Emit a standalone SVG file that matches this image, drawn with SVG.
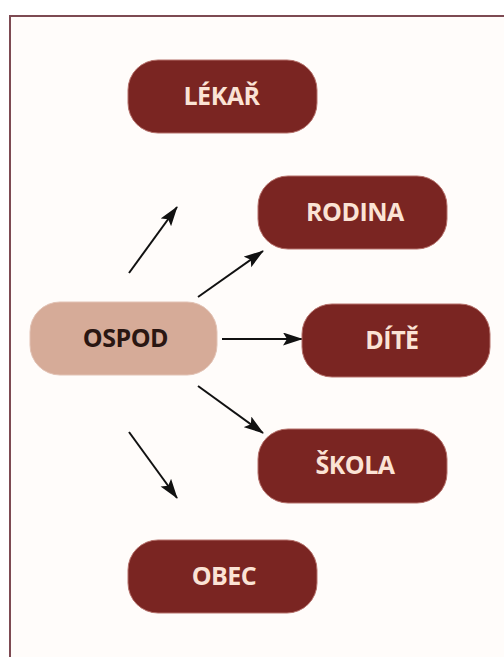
<svg xmlns="http://www.w3.org/2000/svg" width="504" height="657" viewBox="0 0 504 657">
<style>
.dark{fill:#7a2522;stroke:#b5706a;stroke-width:1}
.light{fill:#d6ab98;stroke:#e2c2b4;stroke-width:1}
.t{font-family:"Open Sans","DejaVu Sans",sans-serif;font-weight:bold;font-size:25px;text-anchor:middle;letter-spacing:-0.5px}
.tl{fill:#fbe3d5}
.td{fill:#2a1612}
.conn line{stroke:#111;stroke-width:2}
</style>
<defs>
<marker id="ah" markerUnits="userSpaceOnUse" markerWidth="22" markerHeight="14" refX="19" refY="6.5" orient="auto">
<path d="M0,0 L20,6.5 L0,13 L4,6.5 z" fill="#111"/>
</marker>
</defs>
<rect x="0" y="0" width="504" height="657" fill="#ffffff"/>
<rect x="10" y="16" width="500" height="650" fill="#fffcfa" stroke="#7d4a52" stroke-width="2"/>
<g class="conn">
<line x1="129" y1="273" x2="177" y2="207" marker-end="url(#ah)"/>
<line x1="198" y1="297" x2="263" y2="251" marker-end="url(#ah)"/>
<line x1="222" y1="339" x2="302" y2="339" marker-end="url(#ah)"/>
<line x1="198" y1="386" x2="263" y2="433" marker-end="url(#ah)"/>
<line x1="129" y1="432" x2="177" y2="498" marker-end="url(#ah)"/>
</g>
<g id="lekar"><rect class="dark" x="128" y="60" width="189" height="73" rx="30"/><text class="t tl" x="221.5" y="105">LÉKAŘ</text></g>
<g id="rodina"><rect class="dark" x="258" y="176" width="189" height="73" rx="30"/><text class="t tl" x="355" y="221">RODINA</text></g>
<g id="ospod"><rect class="light" x="30" y="302" width="187" height="73" rx="30"/><text class="t td" x="125.5" y="347">OSPOD</text></g>
<g id="dite"><rect class="dark" x="302" y="304" width="188" height="73" rx="30"/><text class="t tl" x="392" y="349">DÍTĚ</text></g>
<g id="skola"><rect class="dark" x="258" y="429" width="189" height="74" rx="30"/><text class="t tl" x="355" y="474">ŠKOLA</text></g>
<g id="obec"><rect class="dark" x="128" y="540" width="189" height="73" rx="30"/><text class="t tl" x="224" y="585">OBEC</text></g>
</svg>
